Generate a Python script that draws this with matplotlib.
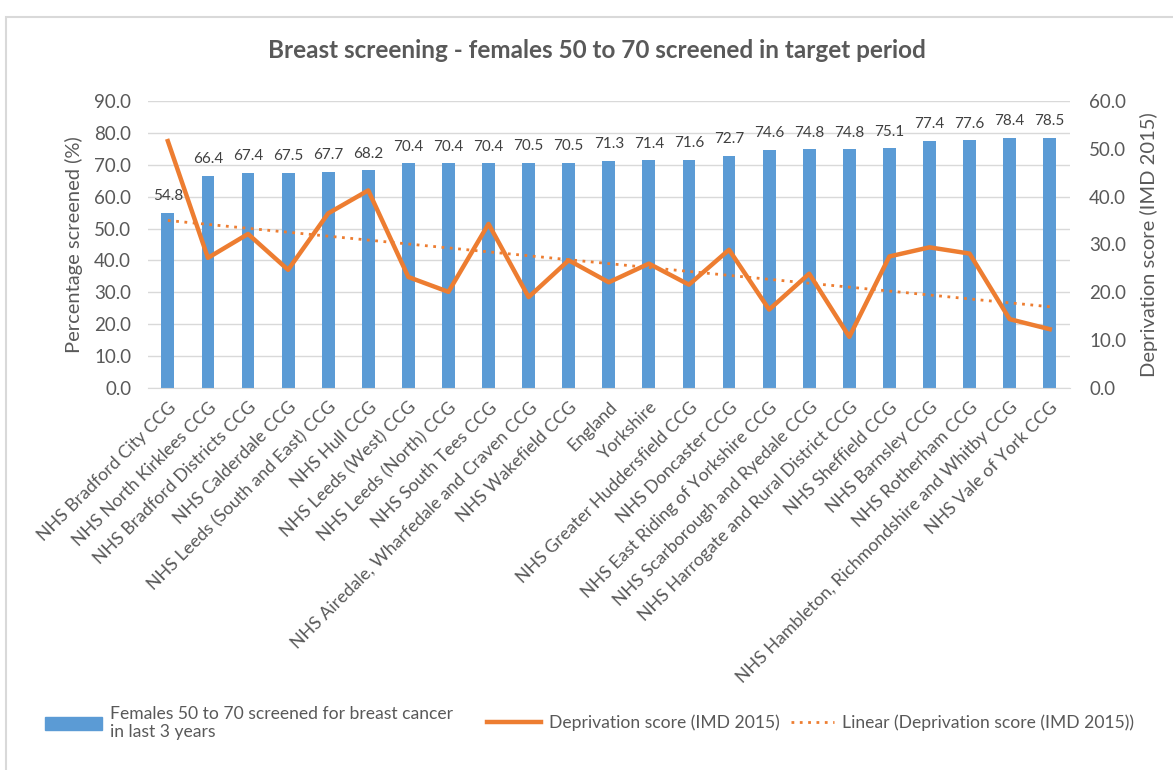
import numpy as np
import matplotlib.pyplot as plt
from matplotlib.patches import Rectangle, Patch
from matplotlib.lines import Line2D

plt.rcParams['font.family'] = ['Lato', 'DejaVu Sans']

# Data
areas = ['NHS Bradford City CCG', 'NHS North Kirklees CCG', 'NHS Bradford Districts CCG',
         'NHS Calderdale CCG', 'NHS Leeds (South and East) CCG', 'NHS Hull CCG',
         'NHS Leeds (West) CCG', 'NHS Leeds (North) CCG', 'NHS South Tees CCG',
         'NHS Airedale, Wharfedale and Craven CCG', 'NHS Wakefield CCG', 'England',
         'Yorkshire', 'NHS Greater Huddersfield CCG', 'NHS Doncaster CCG',
         'NHS East Riding of Yorkshire CCG', 'NHS Scarborough and Ryedale CCG',
         'NHS Harrogate and Rural District CCG', 'NHS Sheffield CCG', 'NHS Barnsley CCG',
         'NHS Rotherham CCG', 'NHS Hambleton, Richmondshire and Whitby CCG',
         'NHS Vale of York CCG']
screened = [54.8, 66.4, 67.4, 67.5, 67.7, 68.2, 70.4, 70.4, 70.4, 70.5, 70.5, 71.3,
            71.4, 71.6, 72.7, 74.6, 74.8, 74.8, 75.1, 77.4, 77.6, 78.4, 78.5]
deprivation = [51.6, 27.2, 32.2, 24.7, 36.5, 41.3, 23.2, 20.1, 34.3, 19.0, 26.7, 22.1,
               26.0, 21.6, 28.9, 16.4, 23.9, 10.7, 27.5, 29.4, 28.1, 14.4, 12.3]

BLUE = '#5B9BD5'
ORANGE = '#ED7D31'
GREY = '#595959'

fig = plt.figure(figsize=(11.73, 7.7), dpi=100)
fig.patches.append(Rectangle((0.005, -0.1), 1.2, 1.078, transform=fig.transFigure,
                             fill=False, edgecolor='#D9D9D9', linewidth=1.5))

ax = fig.add_axes([0.126, 0.496, 0.786, 0.373])
x = np.arange(len(areas))
ax.bar(x, screened, width=0.32, color=BLUE, zorder=2)
for xi, v in zip(x, screened):
    ax.annotate(f'{v:.1f}', (xi, v), xytext=(0, 7), textcoords='offset points',
                ha='center', va='bottom', fontsize=11, color='#404040')

ax.set_xlim(-0.5, len(areas) - 0.5)
ax.set_ylim(0, 90)
ax.set_yticks(np.arange(0, 91, 10))
ax.set_yticklabels([f'{t:.1f}' for t in np.arange(0, 91, 10)], fontsize=13.5, color=GREY)
ax.grid(axis='y', color='#D9D9D9', linewidth=1, zorder=0)
ax.set_axisbelow(True)
for s in ['top', 'right', 'left']:
    ax.spines[s].set_visible(False)
ax.spines['bottom'].set_color('#D9D9D9')
ax.tick_params(length=0)
ax.tick_params(axis='y', pad=12)
ax.set_xticks(x)
ax.set_xticklabels(areas, rotation=45, ha='right', rotation_mode='anchor',
                   fontsize=12.8, color=GREY)
ax.tick_params(axis='x', pad=8)
ax.set_ylabel('Percentage screened (%)', fontsize=14.5, color=GREY, labelpad=8)

ax2 = ax.twinx()
ax2.plot(x, deprivation, color=ORANGE, linewidth=3.2, solid_joinstyle='round', zorder=3)
coef = np.polyfit(x, deprivation, 1)
ax2.plot(x, np.polyval(coef, x), color=ORANGE, linewidth=2,
         linestyle=(0, (1, 2)), zorder=3)
ax2.set_ylim(0, 60)
ax2.set_yticks(np.arange(0, 61, 10))
ax2.set_yticklabels([f'{t:.1f}' for t in np.arange(0, 61, 10)], fontsize=13.5, color=GREY)
ax2.tick_params(length=0, pad=14)
for s in ax2.spines.values():
    s.set_visible(False)
ax2.set_ylabel('Deprivation score (IMD 2015)', fontsize=14.5, color=GREY, labelpad=10)

fig.text(0.509, 0.935, 'Breast screening - females 50 to 70 screened in target period',
         ha='center', va='center', fontsize=17.5, fontweight='bold', color=GREY)

# legend entries placed one by one
entries = [
    (Patch(color=BLUE), 'Females 50 to 70 screened for breast cancer\nin last 3 years', 0.038, 3.3),
    (Line2D([], [], color=ORANGE, linewidth=3.2), 'Deprivation score (IMD 2015)', 0.415, 3.1),
    (Line2D([], [], color=ORANGE, linewidth=2, linestyle=(0, (1, 2)), ),
     'Linear (Deprivation score (IMD 2015))', 0.674, 2.5),
]
for h, lab, xpos, hl in entries:
    fig.legend([h], [lab], loc='center left', bbox_to_anchor=(xpos, 0.061),
               frameon=False, fontsize=12.6, labelcolor=GREY, handlelength=hl,
               handletextpad=0.45, borderpad=0, borderaxespad=0)

fig.savefig('out.png', dpi=100)
